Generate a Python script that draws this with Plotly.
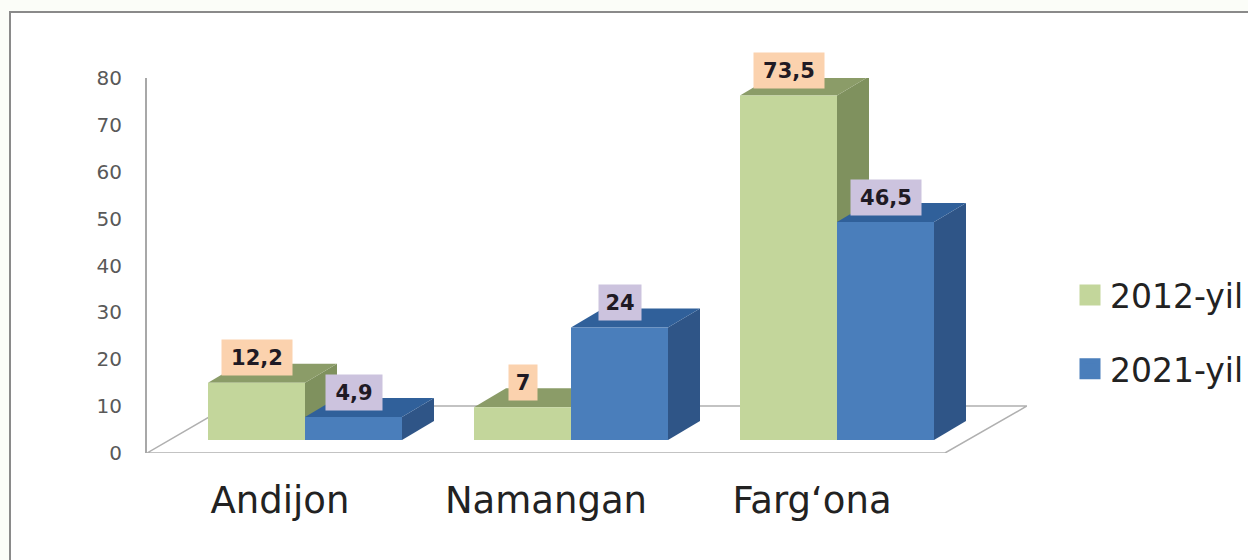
import plotly.graph_objects as go

categories = ["Andijon", "Namangan", "Farg‘ona"]
series_2012 = [12.2, 7, 73.5]
series_2021 = [4.9, 24, 46.5]
labels_2012 = ["12,2", "7", "73,5"]
labels_2021 = ["4,9", "24", "46,5"]
y_ticks = [0, 10, 20, 30, 40, 50, 60, 70, 80]

# Pseudo-3D geometry (axis units)
BAR_W = 97 / 266
DX, DY = 32 / 266, 19 / 4.6875
BASE = 13 / 4.6875
XR = [-158 / 266, 722 / 266]
YR = [0, 80]

STYLES = [
    dict(name="2012-yil", values=series_2012, labels=labels_2012, off=-BAR_W,
         front="#c3d69b", side="#7f915e", top="#8b9c68", tag="#fbd2ae"),
    dict(name="2021-yil", values=series_2021, labels=labels_2021, off=0,
         front="#4a7ebb", side="#2f5587", top="#30609a", tag="#ccc3de"),
]

fig = go.Figure()

# floor
fx = [XR[0], 640 / 266, XR[1], -77 / 266, XR[0]]
fy = [0, 0, 47 / 4.6875, 47 / 4.6875, 0]
fig.add_trace(go.Scatter(x=fx, y=fy, mode="lines", line=dict(color="#b0b0b0", width=1.5),
                         showlegend=False, hoverinfo="skip"))

annotations = []
for s in STYLES:
    for i, v in enumerate(s["values"]):
        x0 = i + s["off"]
        x1 = x0 + BAR_W
        t = BASE + v
        # side face
        fig.add_trace(go.Scatter(
            x=[x1, x1 + DX, x1 + DX, x1, x1], y=[BASE, BASE + DY, t + DY, t, BASE],
            mode="lines", fill="toself", fillcolor=s["side"], line=dict(width=0),
            showlegend=False, hoverinfo="skip"))
        # top face
        fig.add_trace(go.Scatter(
            x=[x0, x1, x1 + DX, x0 + DX, x0], y=[t, t, t + DY, t + DY, t],
            mode="lines", fill="toself", fillcolor=s["top"], line=dict(width=0),
            showlegend=False, hoverinfo="skip"))
        annotations.append(dict(
            x=x0 + BAR_W / 2, y=t, xref="x", yref="y", yshift=25, text="<b>%s</b>" % s["labels"][i],
            showarrow=False, bgcolor=s["tag"], width=14 * len(s["labels"][i]) + 12, height=33,
            font=dict(family="DejaVu Sans", size=21, color="#1f1a24"), xanchor="center", yanchor="middle"))

# front faces on an overlay so they cover neighbouring side faces
for s in STYLES:
    fig.add_trace(go.Bar(
        x=[i + s["off"] + BAR_W / 2 for i in range(len(categories))],
        y=s["values"], base=BASE, width=BAR_W, marker=dict(color=s["front"], line=dict(width=0)),
        xaxis="x2", yaxis="y2", showlegend=False, name=s["name"]))

# legend entries
for s in STYLES:
    fig.add_trace(go.Scatter(
        x=[None], y=[None], mode="markers", name=s["name"], legendgroup=s["name"],
        marker=dict(symbol="square", size=16, color=s["front"], line=dict(color=s["front"], width=5))))

fig.update_layout(
    width=1248, height=560, autosize=False,
    margin=dict(l=147, r=221, t=78, b=107, autoexpand=False),
    paper_bgcolor="#fbfdf8", plot_bgcolor="rgba(0,0,0,0)",
    barmode="overlay",
    xaxis=dict(range=XR, tickmode="array", tickvals=[i - 25 / 266 for i in range(3)], ticktext=categories,
               showgrid=False, zeroline=False, showline=False, ticks="outside", ticklen=15,
               tickcolor="rgba(0,0,0,0)", tickfont=dict(family="DejaVu Sans", size=37, color="#222222")),
    yaxis=dict(range=YR, tickmode="array", tickvals=y_ticks, showgrid=False, zeroline=False,
               showline=True, linecolor="#a8a8a8", linewidth=2, ticks="outside", ticklen=19,
               tickcolor="rgba(0,0,0,0)", tickfont=dict(family="DejaVu Sans", size=20, color="#595959")),
    xaxis2=dict(range=XR, overlaying="x", visible=False),
    yaxis2=dict(range=YR, overlaying="y", visible=False),
    legend=dict(x=(1070 - 147) / 880, y=(453 - 267) / 375, xanchor="left", yanchor="top",
                traceorder="grouped", tracegroupgap=28, bgcolor="rgba(0,0,0,0)",
                itemsizing="trace", font=dict(family="DejaVu Sans", size=33, color="#222222")),
    annotations=annotations,
    shapes=[dict(type="rect", xref="paper", yref="paper", layer="below",
                 x0=(10 - 147) / 880, x1=1.4, y0=-0.5, y1=(453 - 12) / 375,
                 line=dict(color="#8a8a8a", width=2), fillcolor="#ffffff")],
    showlegend=True,
)

fig.write_html("out.html", config=dict(displayModeBar=False),
               post_script="document.body.style.margin='0';document.body.style.overflow='hidden';")
